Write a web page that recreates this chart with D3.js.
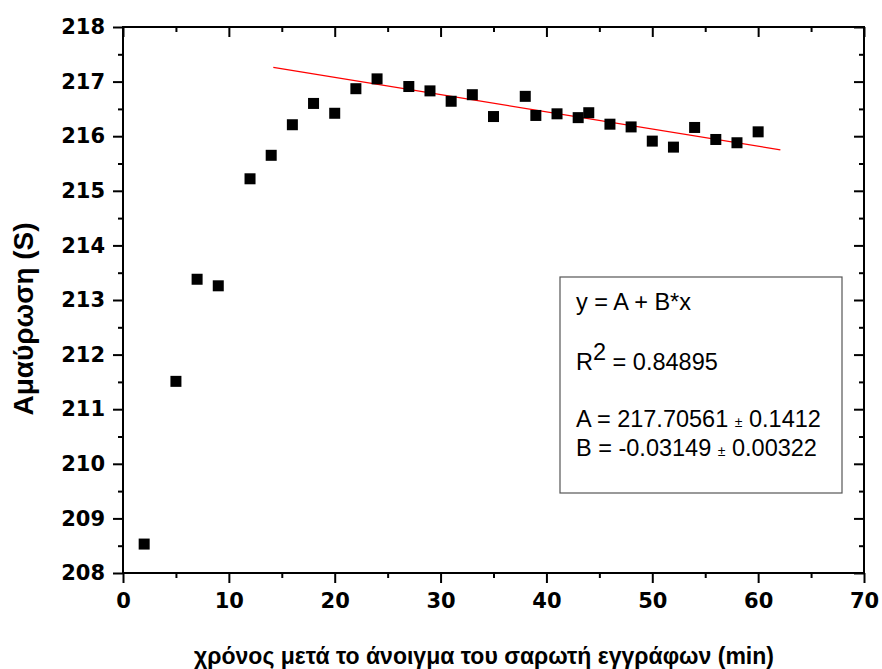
<!DOCTYPE html>
<html>
<head>
<meta charset="utf-8">
<script src="https://cdn.jsdelivr.net/npm/d3@7/dist/d3.min.js"></script>
<style>
  body { margin: 0; background: #fff; }
  .tick text { font-family: "DejaVu Sans", sans-serif; font-weight: bold; font-size: 21px; fill: #000; }
</style>
</head>
<body>
<svg id="chart" width="882" height="669"></svg>
<script>

// measured points (minutes, absorbance)
let times = [2, 5, 7, 9, 12, 14, 16, 18, 20, 22, 24, 27, 29, 31, 33, 35, 38, 39, 41, 43, 44, 46, 48, 50, 52, 54, 56, 58, 60]
let values = [208.53, 211.51, 213.38, 213.26, 215.22, 215.65, 216.21, 216.60, 216.42, 216.87, 217.05, 216.91, 216.83, 216.64, 216.76,
              216.36, 216.73, 216.38, 216.41, 216.34, 216.43, 216.22, 216.17, 215.91, 215.80, 216.16, 215.94, 215.88, 216.08]

// ends of the red linear fit
let fitX = [14.2, 62.1]
let fitY = [217.26, 215.75]

let xTicks = [0, 10, 20, 30, 40, 50, 60, 70]
let xMinor = [5, 15, 25, 35, 45, 55, 65]
let yTicks = [208, 209, 210, 211, 212, 213, 214, 215, 216, 217, 218]
let yMinor = [208.5, 209.5, 210.5, 211.5, 212.5, 213.5, 214.5, 215.5, 216.5, 217.5]

let xTitle = "χρόνος μετά το άνοιγμα του σαρωτή εγγράφων (min)"
let yTitle = "Αμαύρωση (S)"

let svg = d3.select("#chart")
let pLeft = 123, pRight = 864, pTop = 27, pBottom = 573

let x = d3.scaleLinear().domain([0, 70]).range([pLeft, pRight])
let y = d3.scaleLinear().domain([208, 218]).range([pBottom, pTop])

function styleAxis(g) {
    g.selectAll("path").remove()
    g.selectAll("line").attr("stroke", "#000").attr("stroke-width", 2)
}

// left: outward ticks with labels
svg.append("g").attr("transform", "translate(" + pLeft + ",0)")
    .call(d3.axisLeft(y).tickValues(yTicks).tickSize(10).tickPadding(8).tickFormat(d3.format("d")))
    .call(styleAxis)
svg.append("g").attr("transform", "translate(" + pLeft + ",0)")
    .call(d3.axisLeft(y).tickValues(yMinor).tickSize(5).tickFormat(""))
    .call(styleAxis)

// bottom
svg.append("g").attr("transform", "translate(0," + pBottom + ")")
    .call(d3.axisBottom(x).tickValues(xTicks).tickSize(10).tickPadding(10).tickFormat(d3.format("d")))
    .call(styleAxis)
svg.append("g").attr("transform", "translate(0," + pBottom + ")")
    .call(d3.axisBottom(x).tickValues(xMinor).tickSize(5).tickFormat(""))
    .call(styleAxis)

// top and right: inward ticks, no labels
svg.append("g").attr("transform", "translate(0," + pTop + ")")
    .call(d3.axisTop(x).tickValues(xTicks).tickSize(-10).tickFormat(""))
    .call(styleAxis)
svg.append("g").attr("transform", "translate(0," + pTop + ")")
    .call(d3.axisTop(x).tickValues(xMinor).tickSize(-5).tickFormat(""))
    .call(styleAxis)
svg.append("g").attr("transform", "translate(" + pRight + ",0)")
    .call(d3.axisRight(y).tickValues(yTicks).tickSize(-10).tickFormat(""))
    .call(styleAxis)
svg.append("g").attr("transform", "translate(" + pRight + ",0)")
    .call(d3.axisRight(y).tickValues(yMinor).tickSize(-5).tickFormat(""))
    .call(styleAxis)

// frame
svg.append("rect")
    .attr("x", pLeft).attr("y", pTop)
    .attr("width", pRight - pLeft).attr("height", pBottom - pTop)
    .attr("fill", "none").attr("stroke", "#000").attr("stroke-width", 2)

// fit line
svg.append("line")
    .attr("x1", x(fitX[0])).attr("y1", y(fitY[0]))
    .attr("x2", x(fitX[1])).attr("y2", y(fitY[1]))
    .attr("stroke", "#ff0000").attr("stroke-width", 1.3)

// points
let size = 11
svg.append("g").selectAll("rect")
    .data(times).enter()
    .append("rect")
    .attr("x", (d) => x(d) - size / 2)
    .attr("y", (d, i) => y(values[i]) - size / 2)
    .attr("width", size).attr("height", size)
    .attr("fill", "#000")

// fit results box
let box = svg.append("g").attr("font-family", "Liberation Sans, Arial, sans-serif").attr("font-size", 23.5).attr("fill", "#000")
box.append("rect")
    .attr("x", 560).attr("y", 277).attr("width", 282).attr("height", 216)
    .attr("fill", "#fff").attr("stroke", "#555").attr("stroke-width", 1.2)

box.append("text").attr("x", 576).attr("y", 310).text("y = A + B*x")

let r2 = box.append("text").attr("x", 576).attr("y", 370)
r2.append("tspan").text("R")
r2.append("tspan").attr("dy", -10).text("2")
r2.append("tspan").attr("dy", 10).text(" = 0.84895")

let aLine = box.append("text").attr("x", 576).attr("y", 427)
aLine.append("tspan").text("A = 217.70561 ")
aLine.append("tspan").attr("font-size", 14).text("±")
aLine.append("tspan").text(" 0.1412")

let bLine = box.append("text").attr("x", 576).attr("y", 456)
bLine.append("tspan").text("B = -0.03149 ")
bLine.append("tspan").attr("font-size", 14).text("±")
bLine.append("tspan").text(" 0.00322")

// axis titles
svg.append("text")
    .attr("x", 484).attr("y", 664)
    .attr("text-anchor", "middle")
    .attr("font-family", "Liberation Sans, Arial, sans-serif")
    .attr("font-weight", "bold").attr("font-size", 23)
    .text(xTitle)

svg.append("text")
    .attr("transform", "translate(33,319) rotate(-90)")
    .attr("text-anchor", "middle")
    .attr("font-family", "Liberation Sans, Arial, sans-serif")
    .attr("font-weight", "bold").attr("font-size", 28)
    .text(yTitle)

</script>
</body>
</html>
